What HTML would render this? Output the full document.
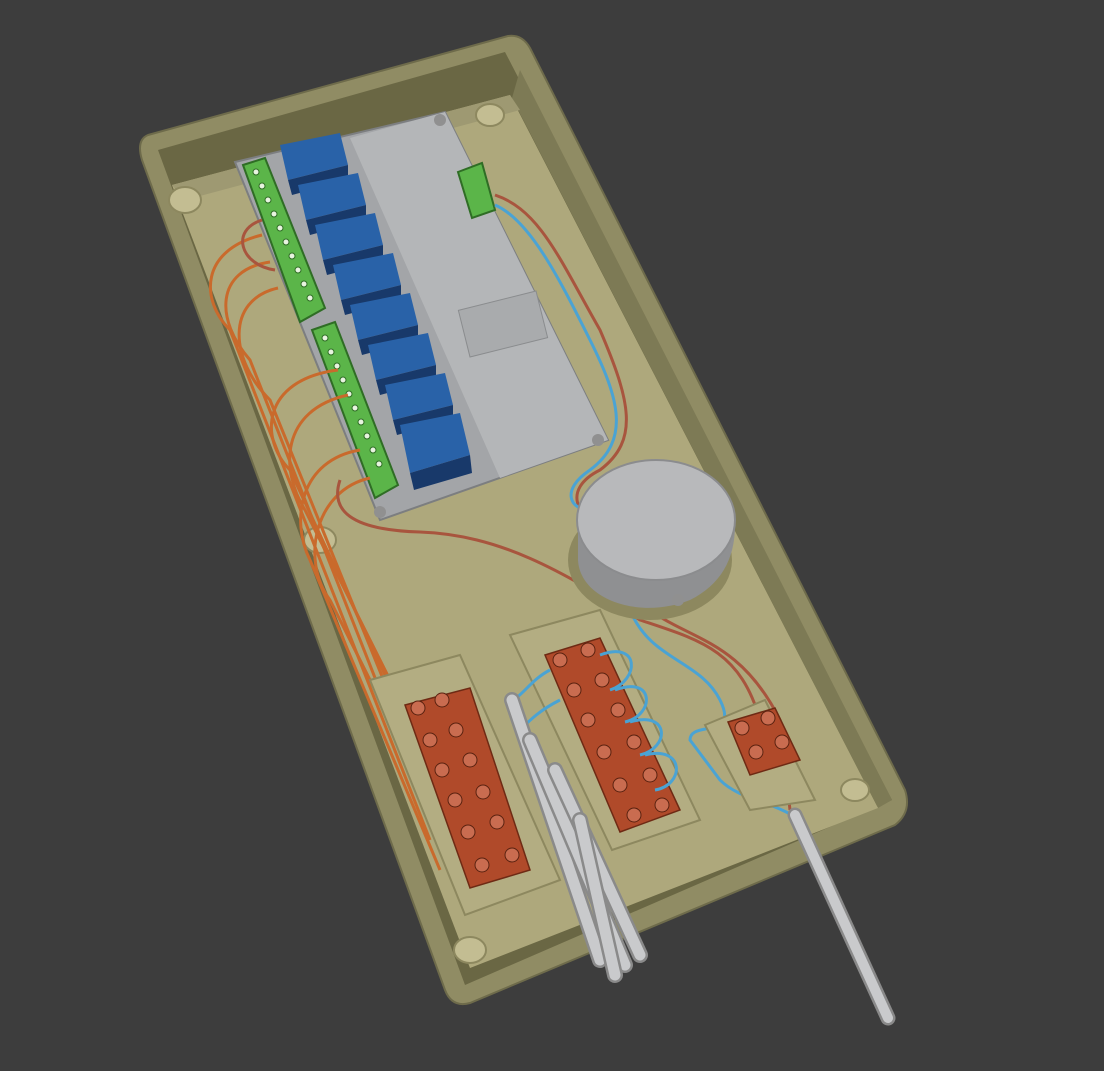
<!DOCTYPE html>
<html><head><style>html,body{margin:0;padding:0;background:#3d3d3d}svg{display:block}</style></head>
<body>
<svg width="1104" height="1071" viewBox="0 0 1104 1071" xmlns="http://www.w3.org/2000/svg">
<rect width="1104" height="1071" fill="#3d3d3d"/>
<path d="M148,135 L508,36 Q522,34 530,48 L905,790 Q912,812 895,825 L470,1003 Q452,1008 445,990 L142,160 Q136,140 148,135 Z" fill="#908c64" stroke="#6e6b4b" stroke-width="2"/>
<path d="M158,150 L505,52 L892,800 L465,985 Z" fill="#6a6744"/>
<path d="M520,70 L892,800 L878,808 L512,98 Z" fill="#7d7a55"/>
<path d="M172,185 L510,95 L878,808 L470,968 Z" fill="#aea87c"/>
<path d="M172,185 L510,95 L520,110 L185,200 Z" fill="#9e9972"/>
<g fill="#c3bd92" stroke="#8d885f" stroke-width="2">
<ellipse cx="185" cy="200" rx="16" ry="13"/>
<ellipse cx="320" cy="540" rx="16" ry="13"/>
<ellipse cx="470" cy="950" rx="16" ry="13"/>
<ellipse cx="855" cy="790" rx="14" ry="11"/>
<ellipse cx="490" cy="115" rx="14" ry="11"/>
</g>
<path d="M235,162 L445,112 L608,440 L380,520 Z" fill="#a3a5a8" stroke="#7c7e80" stroke-width="2"/>
<path d="M350,138 L445,112 L608,440 L500,478 Z" fill="#b4b6b8"/>
<rect x="463" y="300" width="80" height="48" fill="#a9abad" stroke="#8a8c8e" transform="rotate(-14 503 324)"/>
<g fill="#909090"><circle cx="440" cy="120" r="6"/><circle cx="598" cy="440" r="6"/><circle cx="380" cy="512" r="6"/></g>
<g>
<g transform="translate(280,145)"><path d="M0,0 L60,-12 L68,20 L8,35 Z" fill="#2962a8"/><path d="M8,35 L68,20 L68,35 L12,50 Z" fill="#18396a"/></g>
<g transform="translate(298,185)"><path d="M0,0 L60,-12 L68,20 L8,35 Z" fill="#2962a8"/><path d="M8,35 L68,20 L68,35 L12,50 Z" fill="#18396a"/></g>
<g transform="translate(315,225)"><path d="M0,0 L60,-12 L68,20 L8,35 Z" fill="#2962a8"/><path d="M8,35 L68,20 L68,35 L12,50 Z" fill="#18396a"/></g>
<g transform="translate(333,265)"><path d="M0,0 L60,-12 L68,20 L8,35 Z" fill="#2962a8"/><path d="M8,35 L68,20 L68,35 L12,50 Z" fill="#18396a"/></g>
<g transform="translate(350,305)"><path d="M0,0 L60,-12 L68,20 L8,35 Z" fill="#2962a8"/><path d="M8,35 L68,20 L68,35 L12,50 Z" fill="#18396a"/></g>
<g transform="translate(368,345)"><path d="M0,0 L60,-12 L68,20 L8,35 Z" fill="#2962a8"/><path d="M8,35 L68,20 L68,35 L12,50 Z" fill="#18396a"/></g>
<g transform="translate(385,385)"><path d="M0,0 L60,-12 L68,20 L8,35 Z" fill="#2962a8"/><path d="M8,35 L68,20 L68,35 L12,50 Z" fill="#18396a"/></g>
<g transform="translate(400,425)"><path d="M0,0 L60,-12 L70,30 L10,48 Z" fill="#2962a8"/><path d="M10,48 L70,30 L72,48 L14,65 Z" fill="#18396a"/></g>
</g>
<path d="M243,165 L265,158 L325,308 L300,322 Z" fill="#5bb549" stroke="#2f6d25" stroke-width="2"/>
<path d="M312,330 L335,322 L398,485 L375,498 Z" fill="#5bb549" stroke="#2f6d25" stroke-width="2"/>
<g fill="#e8f4e0" stroke="#2f6d25">
<circle cx="256" cy="172" r="3"/><circle cx="262" cy="186" r="3"/><circle cx="268" cy="200" r="3"/><circle cx="274" cy="214" r="3"/><circle cx="280" cy="228" r="3"/><circle cx="286" cy="242" r="3"/><circle cx="292" cy="256" r="3"/><circle cx="298" cy="270" r="3"/><circle cx="304" cy="284" r="3"/><circle cx="310" cy="298" r="3"/>
<circle cx="325" cy="338" r="3"/><circle cx="331" cy="352" r="3"/><circle cx="337" cy="366" r="3"/><circle cx="343" cy="380" r="3"/><circle cx="349" cy="394" r="3"/><circle cx="355" cy="408" r="3"/><circle cx="361" cy="422" r="3"/><circle cx="367" cy="436" r="3"/><circle cx="373" cy="450" r="3"/><circle cx="379" cy="464" r="3"/>
</g>
<path d="M458,172 L482,163 L495,210 L472,218 Z" fill="#5bb549" stroke="#2f6d25" stroke-width="2"/>
<g fill="none" stroke="#c96a2c" stroke-width="3">
<path d="M262,235 C200,250 200,300 230,330 L430,840"/>
<path d="M270,262 C215,270 215,320 250,360 L425,805"/>
<path d="M278,288 C225,300 230,360 270,400 L420,770"/>
<path d="M338,370 C260,380 260,440 290,470 L415,740"/>
<path d="M348,395 C280,410 280,470 305,510 L410,720"/>
<path d="M360,450 C300,460 290,520 310,560 L440,870"/>
<path d="M370,478 C315,490 300,560 330,600 L470,880"/>
</g>
<g fill="none" stroke="#a8553e" stroke-width="3">
<path d="M262,220 C230,230 240,265 275,270"/>
<path d="M340,480 C330,510 350,530 420,532 C500,535 560,570 640,620 C700,640 740,650 760,720"/>
<path d="M495,195 C540,210 560,260 600,330 C630,400 640,440 600,470 C560,490 580,520 600,520"/>
<path d="M650,610 C690,640 740,640 780,720 L790,810"/>
</g>
<g fill="none" stroke="#4aa3d4" stroke-width="3">
<path d="M495,205 C530,220 560,280 590,340 C620,400 630,440 590,470 C560,490 570,510 590,510"/>
<path d="M630,610 C650,660 700,660 720,700 C740,740 690,720 690,740 L720,780 C740,800 770,800 800,820"/>
</g>
<ellipse cx="650" cy="560" rx="82" ry="60" fill="#8d885f"/>
<path d="M578,525 L578,560 C580,600 640,620 690,600 C720,585 735,560 735,525 Z" fill="#8f9092"/>
<ellipse cx="656" cy="520" rx="79" ry="60" fill="#b8b9bb" stroke="#8b8c8e" stroke-width="2"/>
<circle cx="678" cy="600" r="6" fill="#909090"/>
<g fill="#b3ad82" stroke="#8d885f" stroke-width="2">
<path d="M370,680 L460,655 L560,880 L465,915 Z"/>
<path d="M510,635 L600,610 L700,820 L612,850 Z"/>
<path d="M705,725 L765,700 L815,800 L750,810 Z"/>
</g>
<g fill="#b04a2a" stroke="#6e2a14" stroke-width="1.5">
<path d="M405,705 L470,688 L530,870 L470,888 Z"/>
<path d="M545,655 L600,638 L680,810 L620,832 Z"/>
<path d="M728,722 L775,708 L800,760 L750,775 Z"/>
</g>
<g fill="#c96c50" stroke="#5a2210">
<circle cx="418" cy="708" r="7"/><circle cx="442" cy="700" r="7"/><circle cx="430" cy="740" r="7"/><circle cx="456" cy="730" r="7"/><circle cx="442" cy="770" r="7"/><circle cx="470" cy="760" r="7"/><circle cx="455" cy="800" r="7"/><circle cx="483" cy="792" r="7"/><circle cx="468" cy="832" r="7"/><circle cx="497" cy="822" r="7"/><circle cx="482" cy="865" r="7"/><circle cx="512" cy="855" r="7"/>
<circle cx="560" cy="660" r="7"/><circle cx="588" cy="650" r="7"/><circle cx="574" cy="690" r="7"/><circle cx="602" cy="680" r="7"/><circle cx="588" cy="720" r="7"/><circle cx="618" cy="710" r="7"/><circle cx="604" cy="752" r="7"/><circle cx="634" cy="742" r="7"/><circle cx="620" cy="785" r="7"/><circle cx="650" cy="775" r="7"/><circle cx="634" cy="815" r="7"/><circle cx="662" cy="805" r="7"/>
<circle cx="742" cy="728" r="7"/><circle cx="768" cy="718" r="7"/><circle cx="756" cy="752" r="7"/><circle cx="782" cy="742" r="7"/>
</g>
<g fill="none" stroke="#4aa3d4" stroke-width="3">
<path d="M600,655 C640,640 640,680 610,690"/><path d="M615,690 C655,675 655,715 625,722"/><path d="M630,722 C670,710 670,748 640,755"/><path d="M645,755 C685,745 685,785 655,790"/>
<path d="M550,670 C530,680 520,700 510,700"/><path d="M560,700 C540,710 530,720 520,730"/><path d="M575,800 C560,790 540,810 555,830"/>
</g>
<g stroke-linecap="round" fill="none">
<path d="M512,700 L600,960" stroke="#8a8a8a" stroke-width="16"/>
<path d="M512,700 L600,960" stroke="#c9cacc" stroke-width="11"/>
<path d="M530,740 L625,965" stroke="#8a8a8a" stroke-width="16"/>
<path d="M530,740 L625,965" stroke="#c9cacc" stroke-width="11"/>
<path d="M555,770 L640,955" stroke="#8a8a8a" stroke-width="16"/>
<path d="M555,770 L640,955" stroke="#c9cacc" stroke-width="11"/>
<path d="M580,820 L615,975" stroke="#8a8a8a" stroke-width="16"/>
<path d="M580,820 L615,975" stroke="#c9cacc" stroke-width="11"/>
<path d="M795,815 L888,1018" stroke="#8a8a8a" stroke-width="15"/>
<path d="M795,815 L888,1018" stroke="#c9cacc" stroke-width="10"/>
</g>
</svg>
</body></html>
